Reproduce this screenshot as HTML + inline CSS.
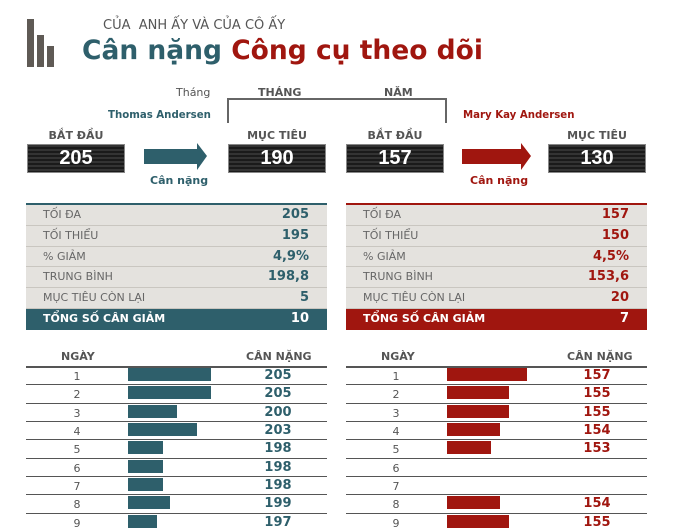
<!DOCTYPE html>
<html><head><meta charset="utf-8"><style>
*{margin:0;padding:0;box-sizing:border-box}
body{width:675px;height:520px;overflow:hidden;background:#fff;position:relative;font-family:"DejaVu Sans","Liberation Sans",sans-serif}
.a{position:absolute;white-space:nowrap}
.box{position:absolute;width:98px;height:29px;background:repeating-linear-gradient(#333 0 2px,#1a1a1a 2px 4px);border:1px solid #888;color:#fff;font:bold 20px/27px "Liberation Sans",sans-serif;text-align:center}
.lab{position:absolute;width:98px;text-align:center;font:bold 11px "DejaVu Sans",sans-serif;color:#555}
.st{position:absolute;width:301px;background:#e4e2de}
.row{position:relative;height:20.8px;border-bottom:1px solid #c9c6c0;font-size:11px;color:#666;line-height:20px;padding-left:17px}
.row b{position:absolute;right:18px;top:0;font-size:13px}
.dl{position:absolute;width:301px;height:1px;background:#555}
.dn{position:absolute;width:100px;text-align:center;font-size:11px;color:#555}
.bar{position:absolute;height:13px}
.v{position:absolute;width:60px;text-align:center;font-weight:bold;font-size:13px}
</style></head><body>
<div class="a" style="left:27px;top:19px;width:7px;height:48px;background:#5f5a55"></div>
<div class="a" style="left:37px;top:35px;width:7px;height:32px;background:#5f5a55"></div>
<div class="a" style="left:47px;top:46px;width:7px;height:21px;background:#5f5a55"></div>
<div class="a" style="left:103px;top:18px;font-size:13px;color:#555">CỦA&nbsp; ANH ẤY VÀ CỦA CÔ ẤY</div>
<div class="a" style="left:82px;top:35px;font-size:26.5px;font-weight:bold;color:#2e5f6b">Cân nặng <span style="color:#a0160f">Công cụ theo dõi</span></div>
<div class="a" style="left:176px;top:86px;font-size:11px;color:#555">Tháng</div>
<div class="a" style="left:258px;top:86px;font-size:11px;font-weight:bold;color:#555">THÁNG</div>
<div class="a" style="left:384px;top:86px;font-size:11px;font-weight:bold;color:#555">NĂM</div>
<div class="a" style="left:227px;top:98px;width:220px;height:25px;border:2px solid #666;border-bottom:none"></div>
<div class="a" style="left:108px;top:110px;font-size:10.2px;font-weight:bold;color:#2e5f6b">Thomas Andersen</div>
<div class="a" style="left:463px;top:110px;font-size:10.2px;font-weight:bold;color:#a0160f">Mary Kay Andersen</div>
<div class="lab" style="left:27px;top:129px">BẮT ĐẦU</div>
<div class="lab" style="left:228px;top:129px">MỤC TIÊU</div>
<div class="lab" style="left:346px;top:129px">BẮT ĐẦU</div>
<div class="lab" style="left:548px;top:129px">MỤC TIÊU</div>
<div class="box" style="left:27px;top:144px">205</div>
<div class="box" style="left:228px;top:144px">190</div>
<div class="box" style="left:346px;top:144px">157</div>
<div class="box" style="left:548px;top:144px">130</div>
<svg class="a" style="left:0;top:0" width="675" height="200"><polygon points="144,149 197,149 197,143 207,156 197,170 197,164 144,164" fill="#2e5f6b"/><polygon points="462,149 521,149 521,143 531,156 521,170 521,164 462,164" fill="#a0160f"/></svg>
<div class="a" style="left:150px;top:174px;font-size:11px;font-weight:bold;color:#2e5f6b">Cân nặng</div>
<div class="a" style="left:470px;top:174px;font-size:11px;font-weight:bold;color:#a0160f">Cân nặng</div>

<div class="st" style="left:26px;top:203px;border-top:2px solid #2e5f6b">
<div class="row">TỐI ĐA<b style="color:#2e5f6b">205</b></div><div class="row">TỐI THIỂU<b style="color:#2e5f6b">195</b></div><div class="row">% GIẢM<b style="color:#2e5f6b">4,9%</b></div><div class="row">TRUNG BÌNH<b style="color:#2e5f6b">198,8</b></div><div class="row">MỤC TIÊU CÒN LẠI<b style="color:#2e5f6b">5</b></div>
<div class="row" style="background:#2e5f6b;color:#fff;font-weight:bold;border:none">TỔNG SỐ CÂN GIẢM<b>10</b></div></div>
<div class="st" style="left:346px;top:203px;border-top:2px solid #a0160f">
<div class="row">TỐI ĐA<b style="color:#a0160f">157</b></div><div class="row">TỐI THIỂU<b style="color:#a0160f">150</b></div><div class="row">% GIẢM<b style="color:#a0160f">4,5%</b></div><div class="row">TRUNG BÌNH<b style="color:#a0160f">153,6</b></div><div class="row">MỤC TIÊU CÒN LẠI<b style="color:#a0160f">20</b></div>
<div class="row" style="background:#a0160f;color:#fff;font-weight:bold;border:none">TỔNG SỐ CÂN GIẢM<b>7</b></div></div>

<div class="a" style="left:61px;top:350px;font-size:11px;font-weight:bold;color:#555">NGÀY</div>
<div class="a" style="left:246px;top:350px;font-size:11px;font-weight:bold;color:#555">CÂN NẶNG</div>
<div class="a" style="left:381px;top:350px;font-size:11px;font-weight:bold;color:#555">NGÀY</div>
<div class="a" style="left:567px;top:350px;font-size:11px;font-weight:bold;color:#555">CÂN NẶNG</div>
<div id="rows"></div>
<script>
var L=[205,205,200,203,198,198,198,199,197],R=[157,155,155,154,153,null,null,154,155],h='';
for(var i=0;i<9;i++){var y=366+i*18.35;
h+='<div class="dl" style="left:26px;top:'+y+'px;height:'+(i?1:2)+'px"></div><div class="dl" style="left:346px;top:'+y+'px;height:'+(i?1:2)+'px"></div>';
h+='<div class="dn a" style="left:27px;top:'+(y+4)+'px">'+(i+1)+'</div><div class="dn a" style="left:346px;top:'+(y+4)+'px">'+(i+1)+'</div>';
h+='<div class="bar" style="left:128px;top:'+(y+2)+'px;width:'+((L[i]-192.8)*6.8)+'px;background:#2e5f6b"></div>';
h+='<div class="v" style="left:248px;top:'+(y+2)+'px;color:#2e5f6b">'+L[i]+'</div>';
if(R[i]){h+='<div class="bar" style="left:447px;top:'+(y+2)+'px;width:'+((R[i]-148.1)*9)+'px;background:#a0160f"></div><div class="v" style="left:567px;top:'+(y+2)+'px;color:#a0160f">'+R[i]+'</div>';}}
document.getElementById('rows').innerHTML=h;
</script>
</body></html>
